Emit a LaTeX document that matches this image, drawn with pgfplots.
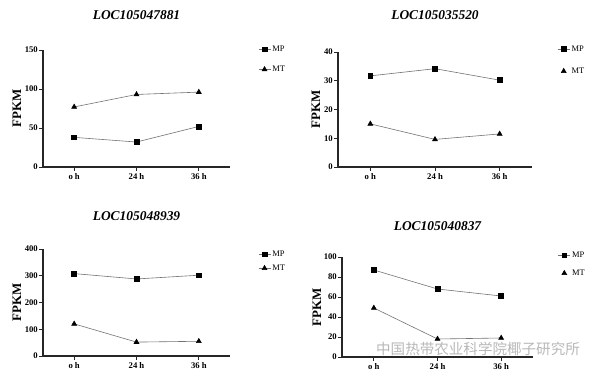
\documentclass[border=0pt]{standalone}
\usepackage{pgfplots}
\pgfplotsset{compat=1.18}
\usepackage{fontspec}
\setmainfont{Liberation Serif}
\newfontfamily\cjk{Noto Sans CJK SC}
\pgfplotsset{
  panel/.style={
    scale only axis,
    axis lines*=left,
    axis line style={line width=1.1bp, black!85},
    xmin=-0.5, xmax=2.5,
    xtick={0,1,2},
    xticklabels={o h,24 h,36 h},
    tick align=outside,
    major tick length=4bp,
    tick style={line width=0.9bp, black!85},
    /pgf/number format/assume math mode=true,
    ticklabel style={font=\bfseries\fontsize{8.7}{10}\selectfont},
    yticklabel style={inner sep=1bp},
    xticklabel style={inner sep=2bp},
    ylabel={FPKM},
    label style={font=\bfseries\fontsize{13}{15}\selectfont},
    title style={font=\bfseries\itshape\fontsize{13.5}{15}\selectfont, anchor=south, inner sep=0pt},
    legend style={draw=none, fill=none, font=\fontsize{8.5}{10}\selectfont, anchor=north west,
      inner sep=0pt, nodes={inner sep=1.5bp}},
    legend cell align=left,
    legend image code/.code={\draw[mark repeat=2,mark phase=2] plot coordinates {(0bp,0bp) (6bp,0bp) (12bp,0bp)};},
  },
  mp/.style={color=black!55, line width=0.6bp, mark=square*, mark size=2.4bp, mark options={fill=black, draw=black, solid}},
  mt/.style={color=black!55, line width=0.6bp, mark=triangle*, mark size=2.8bp, mark options={fill=black, draw=black, solid}},
  markonly/.style={legend image code/.code={%
    \begin{scope}[shift={(6bp,0bp)}]\pgfsetfillcolor{black}\pgfsetstrokecolor{black}\pgfuseplotmark{triangle*}\end{scope}}},
}
\begin{document}
\begin{tikzpicture}
\path[use as bounding box] (0bp,0bp) rectangle (600bp,375bp);
% Panel 1
\begin{axis}[panel, at={(43bp,208bp)}, anchor=south west, width=187bp, height=117bp,
  ymin=0, ymax=150, ytick={0,50,100,150},
  title={LOC105047881}, title style={at={(0.5,1)}, yshift=24bp},
  ylabel style={at={([xshift=-26bp]axis description cs:0,0.5)}, anchor=center},
  legend style={at={(1.15,1.05)}, row sep=10bp}]
\addplot[mp] coordinates {(0,38) (1,32) (2,52)};
\addlegendentry{MP}
\addplot[mt] coordinates {(0,77) (1,93) (2,96)};
\addlegendentry{MT}
\end{axis}
% Panel 2
\begin{axis}[panel, at={(338bp,208bp)}, anchor=south west, width=194bp, height=115bp,
  ymin=0, ymax=40, ytick={0,10,20,30,40},
  title={LOC105035520}, title style={at={(0.5,1)}, yshift=26bp},
  ylabel style={at={([xshift=-22bp]axis description cs:0,0.5)}, anchor=center},
  legend style={at={(1.13,1.07)}, row sep=12bp}]
\addplot[mp] coordinates {(0,31.7) (1,34.2) (2,30.2)};
\addlegendentry{MP}
\addplot[mt, markonly] coordinates {(0,15) (1,9.6) (2,11.5)};
\addlegendentry{MT}
\end{axis}
% Panel 3
\begin{axis}[panel, at={(43bp,19bp)}, anchor=south west, width=187bp, height=107bp,
  ymin=0, ymax=400, ytick={0,100,200,300,400},
  title={LOC105048939}, title style={at={(0.5,1)}, yshift=22bp},
  ylabel style={at={([xshift=-26bp]axis description cs:0,0.5)}, anchor=center},
  legend style={at={(1.15,1.0)}, row sep=4bp}]
\addplot[mp] coordinates {(0,308) (1,288) (2,302)};
\addlegendentry{MP}
\addplot[mt] coordinates {(0,120) (1,52) (2,55)};
\addlegendentry{MT}
\end{axis}
% Panel 4
\begin{axis}[panel, at={(342bp,18bp)}, anchor=south west, width=191bp, height=100bp,
  ymin=0, ymax=100, ytick={0,20,40,60,80,100},
  title={LOC105040837}, title style={at={(0.5,1)}, yshift=20bp},
  ylabel style={at={([xshift=-25bp]axis description cs:0,0.5)}, anchor=center},
  legend style={at={(1.13,1.07)}, row sep=8bp}]
\addplot[mp] coordinates {(0,87) (1,68) (2,61)};
\addlegendentry{MP}
\addplot[mt, markonly] coordinates {(0,49) (1,18) (2,19)};
\addlegendentry{MT}
\end{axis}
\node[anchor=west, text=black!35, opacity=0.8, font=\cjk\fontsize{14.6}{16}\selectfont, inner sep=0pt] at (376bp,26bp) {中国热带农业科学院椰子研究所};
\end{tikzpicture}
\end{document}
